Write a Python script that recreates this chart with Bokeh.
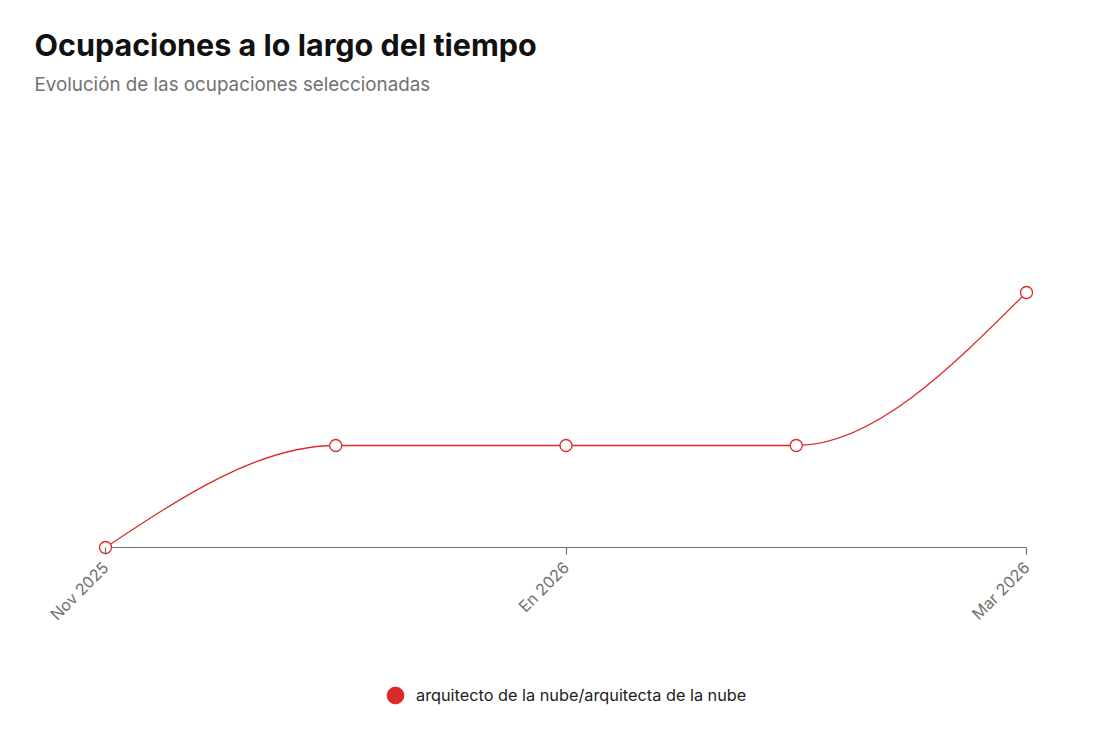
import math
from bokeh.plotting import figure
from bokeh.models import (Label, Legend, LegendItem, FixedTicker, Range1d, LinearAxis)
from bokeh.embed import file_html
from bokeh.resources import INLINE

# ---- data ----
months = ["Nov 2025", "Dic 2025", "En 2026", "Feb 2026", "Mar 2026"]
values = [0, 2, 2, 2, 5]
tick_positions = [0, 2, 4]
tick_labels = {0: "Nov 2025", 2: "En 2026", 4: "Mar 2026"}
series_name = "arquitecto de la nube/arquitecta de la nube"
title_text = "Ocupaciones a lo largo del tiempo"
subtitle_text = "Evolución de las ocupaciones seleccionadas"

RED = "#dc2a2a"
GRAY = "#717171"

xs = list(range(len(values)))

# monotone cubic (d3 curveMonotoneX) tangents
def monotone_tangents(x, y):
    n = len(x)
    t = [0.0] * n
    for i in range(1, n - 1):
        h0 = x[i] - x[i - 1]
        h1 = x[i + 1] - x[i]
        s0 = (y[i] - y[i - 1]) / h0
        s1 = (y[i + 1] - y[i]) / h1
        p = (s0 * h1 + s1 * h0) / (h0 + h1)
        sg = (math.copysign(1, s0) if s0 else 0) + (math.copysign(1, s1) if s1 else 0)
        t[i] = sg * min(abs(s0), abs(s1), 0.5 * abs(p)) if sg else 0.0
    h = x[1] - x[0]
    t[0] = (3 * (y[1] - y[0]) / h - t[1]) / 2
    h = x[-1] - x[-2]
    t[-1] = (3 * (y[-1] - y[-2]) / h - t[-2]) / 2
    return t

tan = monotone_tangents(xs, values)
bx0, by0, bx1, by1, cx0, cy0, cx1, cy1 = [], [], [], [], [], [], [], []
for i in range(len(xs) - 1):
    dx = (xs[i + 1] - xs[i]) / 3
    bx0.append(xs[i]); by0.append(values[i])
    bx1.append(xs[i + 1]); by1.append(values[i + 1])
    cx0.append(xs[i] + dx); cy0.append(values[i] + dx * tan[i])
    cx1.append(xs[i + 1] - dx); cy1.append(values[i + 1] - dx * tan[i + 1])

# layout geometry (pixels): frame covers whole figure
W, H = 1085, 729
X0_PX, XSTEP_PX = 105, 230.25    # x of first month, px per month
Y0_PX, YSTEP_PX = 547, 51.0      # y of zero from top, px per unit
x_start = -X0_PX / XSTEP_PX
x_end = (W - X0_PX) / XSTEP_PX
y_end = Y0_PX / YSTEP_PX
y_start = -(H - Y0_PX) / YSTEP_PX

p = figure(width=W, height=H, output_backend="svg", toolbar_location=None,
           x_range=Range1d(x_start, x_end), y_range=Range1d(y_start, y_end),
           min_border=0, x_axis_location=None, y_axis_location=None)
p.outline_line_color = None
p.grid.visible = False
p.background_fill_color = "white"
p.border_fill_color = "white"

def dx_of(px):
    return x_start + px / XSTEP_PX

def dy_of(py_top):
    return y_end - py_top / YSTEP_PX

p.add_layout(Label(x=dx_of(34), y=dy_of(44), text=title_text, text_font="Inter",
                   text_font_size="30.5px", text_font_style="bold", text_color="#111111",
                   text_baseline="alphabetic", text_align="left"))
p.add_layout(Label(x=dx_of(34), y=dy_of(84), text=subtitle_text, text_font="Inter",
                   text_font_size="18.8px", text_color=GRAY,
                   text_baseline="alphabetic", text_align="left"))

# axis at y=0
ax = LinearAxis(fixed_location=0)
ax.ticker = FixedTicker(ticks=tick_positions)
ax.major_label_overrides = tick_labels
ax.major_label_orientation = math.pi / 4
ax.axis_line_color = None
ax.major_tick_line_color = GRAY
ax.major_tick_line_width = 1.2
ax.major_tick_in = 0
ax.major_tick_out = 7
ax.minor_tick_line_color = None
ax.major_label_text_color = GRAY
ax.major_label_text_font = "Inter"
ax.major_label_text_font_size = "16px"
ax.major_label_standoff = 10
p.add_layout(ax, "below")

# baseline
p.segment(x0=[xs[0]], y0=[0], x1=[xs[-1]], y1=[0], line_color=GRAY, line_width=1.2)

# curve
p.bezier(x0=bx0, y0=by0, x1=bx1, y1=by1, cx0=cx0, cy0=cy0, cx1=cx1, cy1=cy1,
         line_color=RED, line_width=1.3)
p.scatter(xs, values, size=12, marker="circle", fill_color="white",
          line_color=RED, line_width=1.3)

# legend
dummy = p.scatter([float("nan")], [float("nan")], marker="circle", size=18,
                  fill_color=RED, line_color=RED)
legend = Legend(items=[LegendItem(label=series_name, renderers=[dummy])],
                orientation="horizontal", location=(374, 13),
                label_text_font="Inter", label_text_font_size="16.3px",
                label_text_color="#222222", border_line_color=None,
                background_fill_alpha=0, glyph_width=42, glyph_height=42,
                label_standoff=0, margin=0, padding=0)
p.add_layout(legend, "center")

open("out.html", "w").write(file_html(p, INLINE))
